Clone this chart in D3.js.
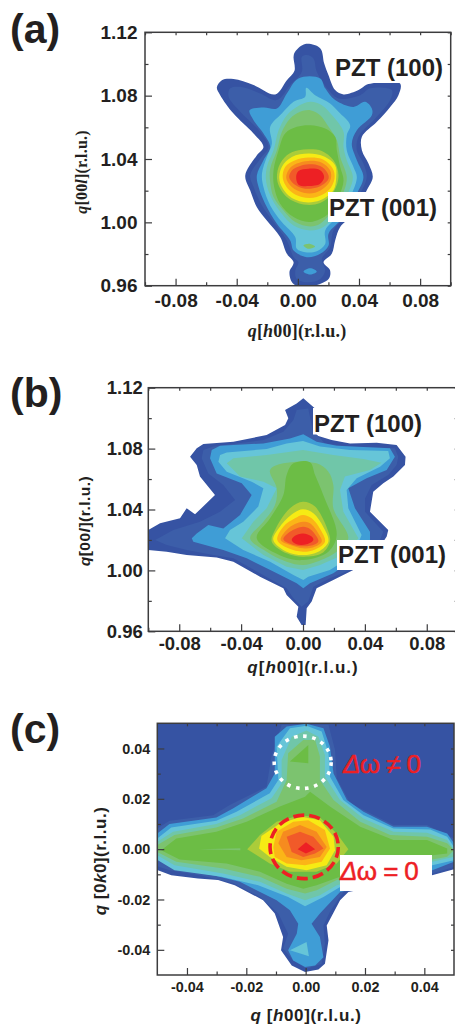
<!DOCTYPE html>
<html>
<head>
<meta charset="utf-8">
<script src="https://cdn.jsdelivr.net/npm/d3@7"></script>
<style>
    html, body { margin: 0; padding: 0; background: #fff; }
    svg { display: block; }
    text { fill: #231f20; font-family: "Liberation Sans", Arial, sans-serif; }
</style>
</head>
<body>
<svg id="chart" width="455" height="1024"></svg>
<script>
// intensity levels, outermost to peak
var levelColors = ['#3653a3', '#3c5ea9', '#3f9dd6', '#66c5d8', '#70c6a9', '#7cc36f', '#6cbd45',
    '#abcc3a', '#f6eb14', '#fbb517', '#f68b1f', '#f15a29', '#ed2024'];

// tick labels
var ticksH = [-0.08, -0.04, 0, 0.04, 0.08];
var minorH = [-0.06, -0.02, 0.02, 0.06, -0.1, 0.1];
var ticksL = [0.96, 1.00, 1.04, 1.08, 1.12];
var minorL = [0.98, 1.02, 1.06, 1.10];
var ticksC = [-0.04, -0.02, 0, 0.02, 0.04];
var minorC = [-0.03, -0.01, 0.01, 0.03];

// panel (a): contours as [q h00, q 00l]
var a1 = [[.0048,1.1126],[.0146,1.1099],[.0172,1.1004],[.0200,1.0930],[.0244,1.0835],[.0299,1.0808],[.0397,1.0835],[.0462,1.0873],[.0669,1.0877],[.0658,1.0803],[.0604,1.0729],[.0517,1.0635],[.0419,1.0540],[.0419,1.0455],[.0462,1.0371],[.0490,1.0286],[.0451,1.0202],[.0364,1.0054],[.0277,.9970],[.0244,.9885],[.0222,.9801],[.0168,.9748],[.0211,.9696],[.0201,.9643],[.0081,.9596],[-.0028,.9611],[-.0055,.9685],[-.0028,.9748],[-.0072,.9801],[-.0116,.9907],[-.0203,1.0012],[-.0268,1.0096],[-.0312,1.0202],[-.0344,1.0297],[-.0268,1.0424],[-.0225,1.0476],[-.0290,1.0561],[-.0421,1.0687],[-.0508,1.0803],[-.0530,1.0852],[-.0497,1.0898],[-.0421,1.0905],[-.0290,1.0867],[-.0148,1.0808],[-.0072,1.0898],[-.0022,1.0957],[-.0028,1.1046],[-.0017,1.1078]];
var a2 = [[.0059,1.1057],[.0102,1.1035],[.0124,1.0951],[.0201,1.0835],[.0266,1.0782],[.0408,1.0803],[.0473,1.0846],[.0615,1.0835],[.0604,1.0772],[.0517,1.0666],[.0397,1.0540],[.0386,1.0455],[.0429,1.0371],[.0451,1.0286],[.0408,1.0181],[.0331,1.0054],[.0233,.9949],[.0211,.9843],[.0157,.9769],[.0179,.9696],[.0146,.9643],[.0070,.9622],[-.0007,.9643],[-.0017,.9696],[.0004,.9748],[-.0028,.9780],[-.0072,.9885],[-.0159,1.0002],[-.0235,1.0107],[-.0290,1.0223],[-.0312,1.0297],[-.0246,1.0402],[-.0192,1.0476],[-.0246,1.0571],[-.0377,1.0698],[-.0453,1.0793],[-.0443,1.0846],[-.0377,1.0856],[-.0246,1.0814],[-.0137,1.0772],[-.0050,1.0867],[.0026,1.0951],[.0026,1.1046]];
var a3 = [[.0004,1.0909],[.0146,1.0909],[.0179,1.0846],[.0244,1.0772],[.0364,1.0729],[.0440,1.0761],[.0484,1.0719],[.0484,1.0677],[.0386,1.0582],[.0353,1.0497],[.0386,1.0392],[.0429,1.0286],[.0386,1.0181],[.0299,1.0033],[.0201,.9928],[.0201,.9854],[.0146,.9801],[.0059,.9780],[-.0028,.9822],[-.0050,.9885],[-.0137,.9991],[-.0214,1.0118],[-.0257,1.0223],[-.0268,1.0297],[-.0225,1.0392],[-.0181,1.0476],[-.0225,1.0561],[-.0290,1.0645],[-.0316,1.0708],[-.0225,1.0725],[-.0137,1.0719],[-.0072,1.0814]];
var a3b = [[.0081,.9710],[.0124,.9689],[.0081,.9670],[.0037,.9689]];
var a4 = [[.0055,1.0850],[.0113,1.0803],[.0211,1.0751],[.0266,1.0698],[.0342,1.0613],[.0320,1.0550],[.0320,1.0455],[.0364,1.0350],[.0386,1.0286],[.0353,1.0181],[.0277,1.0054],[.0179,.9949],[.0179,.9864],[.0124,.9818],[.0048,.9812],[-.0007,.9833],[-.0017,.9907],[-.0105,1.0002],[-.0181,1.0107],[-.0225,1.0223],[-.0235,1.0307],[-.0203,1.0413],[-.0170,1.0497],[-.0181,1.0603],[-.0105,1.0687],[-.0028,1.0761],[.0048,1.0793]];
var a5 = [[.0081,1.0761],[.0157,1.0740],[.0233,1.0666],[.0299,1.0571],[.0299,1.0476],[.0320,1.0392],[.0360,1.0286],[.0331,1.0191],[.0255,1.0075],[.0168,.9970],[.0081,.9949],[-.0028,.9980],[-.0105,1.0054],[-.0170,1.0149],[-.0207,1.0255],[-.0203,1.0350],[-.0159,1.0455],[-.0126,1.0582],[-.0072,1.0677],[-.0007,1.0729]];
var a6 = [[.0081,1.0708],[.0146,1.0677],[.0201,1.0603],[.0255,1.0518],[.0277,1.0413],[.0320,1.0286],[.0299,1.0191],[.0211,1.0054],[.0146,.9991],[.0081,.9974],[-.0017,1.0002],[-.0094,1.0075],[-.0159,1.0160],[-.0181,1.0255],[-.0181,1.0339],[-.0137,1.0455],[-.0105,1.0571],[-.0050,1.0656],[.0015,1.0698]];
var a6b = [[.0037,.9854],[.0081,.9864],[.0113,.9847],[.0070,.9833]];
var a7 = [[.0081,1.0613],[.0179,1.0592],[.0244,1.0540],[.0255,1.0455],[.0277,1.0350],[.0299,1.0265],[.0266,1.0160],[.0201,1.0054],[.0081,1.0002],[-.0028,1.0033],[-.0116,1.0118],[-.0155,1.0223],[-.0159,1.0329],[-.0126,1.0455],[-.0083,1.0561],[-.0007,1.0603]];
var a8 = [[.0081,1.0462],[.0157,1.0451],[.0233,1.0392],[.0266,1.0297],[.0233,1.0191],[.0146,1.0122],[.0037,1.0113],[-.0072,1.0160],[-.0133,1.0255],[-.0126,1.0350],[-.0072,1.0424],[.0004,1.0455]];
var a9 = [[.0070,1.0434],[.0168,1.0417],[.0244,1.0360],[.0251,1.0286],[.0233,1.0202],[.0146,1.0139],[.0037,1.0128],[-.0061,1.0170],[-.0120,1.0265],[-.0105,1.0350],[-.0039,1.0413]];
var a10 = [[.0070,1.0409],[.0168,1.0396],[.0229,1.0339],[.0240,1.0276],[.0201,1.0202],[.0124,1.0160],[.0026,1.0160],[-.0050,1.0198],[-.0098,1.0276],[-.0083,1.0350],[-.0017,1.0392]];
var a11 = [[.0070,1.0388],[.0157,1.0377],[.0211,1.0329],[.0216,1.0276],[.0179,1.0223],[.0113,1.0187],[.0037,1.0187],[-.0039,1.0223],[-.0076,1.0282],[-.0055,1.0339],[-.0007,1.0371]];
var a12 = [[.0070,1.0367],[.0146,1.0356],[.0194,1.0312],[.0201,1.0276],[.0157,1.0234],[.0092,1.0213],[.0026,1.0217],[-.0028,1.0244],[-.0057,1.0286],[-.0033,1.0333],[.0015,1.0356]];
var a13 = [[.0070,1.0339],[.0146,1.0329],[.0172,1.0286],[.0146,1.0244],[.0070,1.0229],[.0004,1.0238],[-.0011,1.0286],[.0004,1.0324]];
var contoursA = [a1, a2, a3, a3b, a4, a5, a6, a6b, a7, a8, a9, a10, a11, a12, a13];
var levelsA = [0, 1, 2, 2, 3, 4, 5, 5, 6, 7, 8, 9, 10, 11, 12];

// panel (b): contours as [q h00, q 00l]
var b1 = [[.0002,1.1130],[.0078,1.1064],[.0088,1.0955],[.0078,1.0889],[.0185,1.0856],[.0304,1.0834],[.0476,1.0839],[.0605,1.0823],[.0663,1.0747],[.0659,1.0692],[.0584,1.0616],[.0519,1.0572],[.0454,1.0517],[.0433,1.0386],[.0551,1.0265],[.0541,1.0222],[.0476,1.0123],[.0325,1.0003],[.0196,.9937],[.0088,.9882],[.0056,.9795],[.0024,.9751],[.0017,.9641],[-.0009,.9641],[-.0041,.9696],[-.0030,.9762],[-.0106,.9838],[-.0127,.9882],[-.0278,.9959],[-.0450,1.0057],[-.0558,1.0084],[-.0752,1.0101],[-.0881,1.0123],[-.1000,1.0134],[-.1000,1.0265],[-.0924,1.0309],[-.0795,1.0342],[-.0752,1.0408],[-.0698,1.0368],[-.0569,1.0495],[-.0666,1.0616],[-.0687,1.0692],[-.0730,1.0747],[-.0687,1.0802],[-.0644,1.0830],[-.0450,1.0845],[-.0235,1.0889],[-.0116,1.0955],[-.0095,1.0999],[-.0116,1.1053],[-.0041,1.1097]];
var b2 = [[-.0041,1.1053],[.0034,1.1064],[.0062,1.0922],[.0142,1.0834],[.0304,1.0813],[.0594,1.0802],[.0616,1.0747],[.0605,1.0692],[.0551,1.0626],[.0444,1.0561],[.0401,1.0473],[.0401,1.0386],[.0519,1.0254],[.0498,1.0200],[.0411,1.0090],[.0304,1.0003],[.0174,.9948],[.0067,.9893],[.0034,.9795],[-.0009,.9762],[-.0062,.9817],[-.0106,.9882],[-.0278,.9981],[-.0450,1.0079],[-.0579,1.0101],[-.0752,1.0134],[-.0881,1.0167],[-.0956,1.0200],[-.0838,1.0265],[-.0666,1.0320],[-.0536,1.0386],[-.0439,1.0462],[-.0515,1.0561],[-.0612,1.0637],[-.0655,1.0736],[-.0644,1.0791],[-.0579,1.0813],[-.0256,1.0856],[-.0127,1.0911],[-.0062,1.0988]];
var b3 = [[-.0084,1.0867],[.0002,1.0894],[.0088,1.0845],[.0218,1.0819],[.0562,1.0802],[.0594,1.0747],[.0541,1.0659],[.0411,1.0605],[.0293,1.0539],[.0336,1.0408],[.0433,1.0254],[.0433,1.0200],[.0304,1.0057],[.0196,.9981],[.0045,.9915],[.0002,.9882],[-.0041,.9915],[-.0192,.9992],[-.0364,1.0079],[-.0515,1.0134],[-.0709,1.0189],[-.0719,1.0211],[-.0687,1.0243],[-.0612,1.0298],[-.0515,1.0276],[-.0407,1.0364],[-.0332,1.0495],[-.0396,1.0572],[-.0558,1.0637],[-.0601,1.0736],[-.0590,1.0791],[-.0536,1.0819],[-.0256,1.0834]];
var b4 = [[0,1.0850],[.0110,1.0813],[.0304,1.0791],[.0551,1.0784],[.0562,1.0736],[.0498,1.0681],[.0347,1.0605],[.0282,1.0528],[.0293,1.0408],[.0379,1.0232],[.0325,1.0101],[.0174,1.0003],[.0034,.9959],[.0002,.9937],[-.0062,.9970],[-.0213,1.0057],[-.0386,1.0134],[-.0504,1.0211],[-.0472,1.0265],[-.0386,1.0320],[-.0289,1.0419],[-.0256,1.0539],[-.0332,1.0583],[-.0493,1.0648],[-.0547,1.0714],[-.0536,1.0758],[-.0493,1.0775],[-.0235,1.0797],[-.0106,1.0834]];
var b5 = [[0,1.0791],[.0196,1.0758],[.0390,1.0732],[.0508,1.0707],[.0433,1.0659],[.0271,1.0616],[.0239,1.0528],[.0261,1.0386],[.0358,1.0211],[.0282,1.0112],[.0110,1.0035],[0,1.0003],[-.0106,1.0024],[-.0256,1.0101],[-.0396,1.0211],[-.0321,1.0320],[-.0235,1.0408],[-.0170,1.0539],[-.0256,1.0583],[-.0407,1.0616],[-.0493,1.0703],[-.0450,1.0736],[-.0235,1.0758]];
var b6 = [[-.0213,1.0659],[-.0127,1.0703],[.0088,1.0703],[.0164,1.0648],[.0196,1.0561],[.0196,1.0408],[.0293,1.0211],[.0218,1.0123],[.0088,1.0057],[0,1.0035],[-.0106,1.0057],[-.0235,1.0123],[-.0342,1.0211],[-.0256,1.0320],[-.0181,1.0429],[-.0170,1.0539]];
var b7 = [[-.0106,1.0626],[-.0062,1.0703],[.0045,1.0710],[.0078,1.0626],[.0131,1.0495],[.0218,1.0232],[.0164,1.0123],[.0002,1.0068],[-.0127,1.0090],[-.0299,1.0211],[-.0213,1.0342],[-.0127,1.0495]];
var b8 = [[0,1.0451],[.0078,1.0419],[.0164,1.0254],[.0174,1.0189],[.0121,1.0112],[0,1.0090],[-.0106,1.0112],[-.0202,1.0189],[-.0181,1.0265],[-.0084,1.0408]];
var b9 = [[0,1.0401],[.0067,1.0375],[.0142,1.0265],[.0164,1.0189],[.0099,1.0123],[0,1.0101],[-.0106,1.0123],[-.0192,1.0200],[-.0149,1.0287],[-.0062,1.0375]];
var b10 = [[0,1.0364],[.0056,1.0342],[.0121,1.0254],[.0142,1.0189],[.0078,1.0138],[0,1.0123],[-.0095,1.0145],[-.0166,1.0200],[-.0127,1.0287],[-.0052,1.0342]];
var b11 = [[0,1.0320],[.0045,1.0309],[.0099,1.0243],[.0121,1.0189],[.0056,1.0149],[0,1.0145],[-.0084,1.0167],[-.0144,1.0200],[-.0106,1.0265],[-.0052,1.0305]];
var b12 = [[0,1.0287],[.0045,1.0272],[.0088,1.0222],[.0099,1.0189],[.0045,1.0162],[-.0062,1.0167],[-.0127,1.0204],[-.0084,1.0254]];
var b13 = [[0,1.0243],[.0056,1.0222],[.0067,1.0200],[.0024,1.0171],[-.0041,1.0171],[-.0073,1.0200],[-.0052,1.0228]];
var contoursB = [b1, b2, b3, b4, b5, b6, b7, b8, b9, b10, b11, b12, b13];
var levelsB = [0, 1, 2, 3, 4, 5, 6, 7, 8, 9, 10, 11, 12];

// panel (c): contours as [q h00, q 0k0]
var c1 = [[-.05,.05],[.05,.05],[.05,-.0080],[.0426,-.0104],[.0144,-.0170],[.0116,-.0203],[.0071,-.0303],[.0077,-.0362],[.0065,-.0455],[.0043,-.0478],[-.0002,-.0488],[-.0047,-.0462],[-.0083,-.0402],[-.0076,-.0349],[-.0104,-.0256],[-.0143,-.0203],[-.0239,-.0143],[-.0295,-.0123],[-.0363,-.0117],[-.0453,-.0104],[-.0498,-.0084],[-.05,-.0080]];
var c2 = [[-.05,.0082],[-.0459,.0113],[-.0312,.0135],[-.0256,.0175],[-.0132,.0248],[-.0115,.0368],[-.0081,.0494],[.0077,.0494],[.0099,.0394],[.0105,.0281],[.0150,.0182],[.0296,.0096],[.0409,.0096],[.05,.0042],[.05,-.0071],[.0427,-.0097],[.0127,-.0170],[.0082,-.0249],[.0060,-.0303],[.0065,-.0376],[.0054,-.0455],[.0003,-.0475],[-.0042,-.0442],[-.0076,-.0395],[-.0059,-.0336],[-.0092,-.0256],[-.0154,-.0190],[-.0245,-.0134],[-.0357,-.0104],[-.0459,-.0084],[-.05,-.0068]];
var c3 = [[-.05,.0062],[-.0459,.0100],[-.0301,.0126],[-.0245,.0162],[-.0132,.0242],[-.0104,.0301],[-.0104,.0447],[-.0064,.0487],[.0003,.0498],[.0060,.0480],[.0082,.0407],[.0094,.0301],[.0139,.0195],[.0195,.0149],[.0296,.0089],[.0409,.0089],[.0477,.0062],[.05,.0023],[.05,-.0050],[.0427,-.0084],[.0116,-.0170],[.0048,-.0256],[.0020,-.0296],[.0048,-.0349],[.0060,-.0429],[.0032,-.0462],[-.0002,-.0468],[-.0042,-.0442],[-.0059,-.0402],[-.0030,-.0336],[-.0025,-.0296],[-.0053,-.0243],[-.0098,-.0203],[-.0222,-.0130],[-.0312,-.0104],[-.0447,-.0077],[-.05,-.0037]];
var c4 = [[-.05,.0042],[-.0453,.0086],[-.0301,.0113],[-.0233,.0149],[-.0121,.0222],[-.0092,.0275],[-.0098,.0407],[-.0053,.0480],[.0003,.0490],[.0054,.0467],[.0077,.0381],[.0082,.0288],[.0127,.0195],[.0195,.0135],[.0296,.0082],[.0420,.0078],[.0477,.0049],[.05,.0009],[.05,-.0044],[.0427,-.0064],[.0116,-.0150],[.0060,-.0190],[-.0002,-.0227],[-.0059,-.0190],[-.0160,-.0143],[-.0284,-.0110],[-.0442,-.0084],[-.0498,-.0044],[-.05,-.0040]];
var c4b = [[-.0053,-.0402],[.0003,-.0369],[.0011,-.0426]];
var c5 = [[-.05,.0029],[-.0447,.0069],[-.0301,.0100],[-.0222,.0135],[-.0115,.0202],[-.0081,.0261],[-.0081,.0354],[-.0047,.0447],[.0003,.0471],[.0043,.0447],[.0065,.0374],[.0065,.0288],[.0116,.0195],[.0195,.0122],[.0296,.0069],[.0409,.0065],[.0477,.0036],[.05,-.0004],[.05,-.0030],[.0427,-.0050],[.0105,-.0143],[.0048,-.0183],[-.0002,-.0203],[-.0064,-.0176],[-.0154,-.0130],[-.0278,-.0097],[-.0442,-.0064],[-.05,-.0024]];
var c6 = [[-.05,.0016],[-.0442,.0056],[-.0301,.0086],[-.0211,.0122],[-.0098,.0188],[-.0064,.0275],[-.0059,.0381],[-.0008,.0434],[.0032,.0434],[.0048,.0368],[.0048,.0275],[.0094,.0195],[.0184,.0109],[.0285,.0056],[.0409,.0049],[.0477,.0023],[.05,-.0004],[.0477,-.0030],[.0427,-.0041],[.0105,-.0123],[.0037,-.0163],[-.0002,-.0176],[-.0064,-.0157],[-.0154,-.0110],[-.0278,-.0077],[-.0436,-.0050],[-.05,-.0011]];
var c7 = [[-.0487,-.0004],[-.0436,.0042],[-.0301,.0069],[-.0199,.0109],[-.0087,.0169],[-.0002,.0208],[.0015,.0228],[.0082,.0169],[.0184,.0089],[.0296,.0036],[.0409,.0036],[.0477,.0003],[.0477,-.0017],[.0427,-.0024],[.0116,-.0110],[.0037,-.0143],[-.0008,-.0157],[-.0064,-.0137],[-.0154,-.0090],[-.0267,-.0057],[-.0425,-.0041]];
var c7b = [[.0009,.0414],[-.0053,.0348],[.0009,.0341]];
var c7c = [[-.0360,0],[-.0220,.0004],[-.0220,-.0004]];
var c8 = [[-.0197,0],[-.0154,.0056],[-.0098,.0109],[-.0019,.0135],[.0048,.0126],[.0105,.0062],[.0144,0],[.0105,-.0057],[.0037,-.0090],[-.0053,-.0090],[-.0121,-.0057]];
var c9 = [[-.0157,.0003],[-.0149,.0052],[-.0087,.0102],[-.0014,.0129],[.0048,.0115],[.0094,.0049],[.0099,-.0004],[.0071,-.0064],[.0003,-.0084],[-.0064,-.0070],[-.0121,-.0031]];
var c10 = [[-.0109,.0009],[-.0098,.0069],[-.0042,.0109],[.0009,.0115],[.0065,.0076],[.0082,.0003],[.0054,-.0050],[-.0002,-.0064],[-.0064,-.0057],[-.0104,-.0031]];
var c11 = [[-.0092,.0023],[-.0076,.0069],[-.0019,.0096],[.0037,.0069],[.0071,.0009],[.0048,-.0031],[-.0014,-.0044],[-.0064,-.0031]];
var c12 = [[-.0064,.0049],[-.0019,.0069],[.0026,.0049],[.0060,.0003],[.0032,-.0017],[-.0008,-.0031],[-.0047,-.0011]];
var c13 = [[-.0027,0],[.0001,.0027],[.0032,0],[.0001,-.0017]];
var contoursC = [c1, c2, c3, c4, c4b, c5, c6, c7, c7b, c7c, c8, c9, c10, c11, c12, c13];
var levelsC = [0, 1, 2, 3, 3, 4, 5, 6, 6, 5, 7, 8, 9, 10, 11, 12];

// marked rings in (c): centre h, centre k, radius h, radius k
var ringWhite = [-0.0010, 0.0345, 0.0096, 0.0104];
var ringRed = [-0.0005, 0.0009, 0.0115, 0.0126];

var svg = d3.select('#chart');
var dark = '#3c3c3e';

function fmt(d) {
    return d3.format('.2f')(d).replace('\u2212', '-');
}

// parts is a list of [string, italic]
function addText(g, parts, x, y, o) {
    var t = g.append('text')
        .attr('transform', 'translate(' + x + ',' + y + ')' + (o.rotate ? ' rotate(-90)' : ''))
        .attr('text-anchor', o.anchor || 'middle')
        .style('font-family', o.family || '"Liberation Sans", Arial, sans-serif')
        .style('font-size', o.size + 'px')
        .style('font-weight', o.weight || 'bold')
        .style('letter-spacing', (o.spacing || 0) + 'px')
        .style('fill', o.color || '#231f20');
    if (o.stroke) {
        t.style('stroke', o.color).style('stroke-width', o.stroke);
    }
    parts.forEach(function (p) {
        t.append('tspan').style('font-style', p[1] ? 'italic' : 'normal').text(p[0]);
    });
    return t;
}

function drawPanel(o) {
    var g = svg.append('g');
    var x = d3.scaleLinear().domain(o.xDomain).range([o.left, o.right]);
    var y = d3.scaleLinear().domain(o.yDomain).range([o.bottom, o.top]);

    var clipId = 'clip-' + o.name.replace(/[()]/g, '');
    g.append('clipPath').attr('id', clipId).append('rect')
        .attr('x', o.left).attr('y', o.top)
        .attr('width', o.right - o.left).attr('height', o.bottom - o.top);

    var line = d3.line()
        .x(function (d) { return x(d[0]); })
        .y(function (d) { return y(d[1]); });

    g.append('g').attr('clip-path', 'url(#' + clipId + ')')
        .selectAll('path').data(o.contours).enter().append('path')
        .attr('d', function (d, i) {
            return line.curve(o.levels[i] < o.sharpBelow ? d3.curveLinearClosed : smooth)(d);
        })
        .attr('fill', function (d, i) { return levelColors[o.levels[i]]; });

    // white boxes behind the notes sit on top of the map
    o.boxes.forEach(function (b) {
        g.append('rect').attr('x', b[0]).attr('y', b[1]).attr('width', b[2]).attr('height', b[3]).attr('fill', '#fff');
    });

    function axis(gen, tx, ty, values, size, labels) {
        var a = g.append('g').attr('transform', 'translate(' + tx + ',' + ty + ')')
            .call(gen.tickValues(values).tickSize(size).tickSizeOuter(0).tickPadding(o.pad)
                .tickFormat(labels ? fmt : ''));
        a.select('.domain').remove();
        a.selectAll('line').attr('stroke', dark).attr('stroke-width', 1.2);
        a.selectAll('text')
            .style('font-size', o.tickFont + 'px').style('font-weight', 'bold')
            .style('font-family', '"Liberation Sans", Arial, sans-serif');
    }
    axis(d3.axisBottom(x), 0, o.bottom, o.ticksX, -7, true);
    axis(d3.axisBottom(x), 0, o.bottom, o.minorX, -3.5, false);
    axis(d3.axisLeft(y), o.left, 0, o.ticksY, -7, true);
    axis(d3.axisLeft(y), o.left, 0, o.minorY, -3.5, false);
    axis(d3.axisTop(x), 0, o.top, o.ticksX.concat(o.minorX), -3, false);
    axis(d3.axisRight(y), o.right, 0, o.ticksY.concat(o.minorY), -3, false);

    g.append('rect').attr('x', o.left).attr('y', o.top)
        .attr('width', o.right - o.left).attr('height', o.bottom - o.top)
        .attr('fill', 'none').attr('stroke', dark).attr('stroke-width', 1.5);

    addText(g, [[o.name]], 10, o.letterY, { size: 41, anchor: 'start' });
    addText(g, o.xLabel, o.xLabelX, o.xLabelY, o.xFont);
    addText(g, o.yLabel, o.yLabelX, o.yLabelY, o.yFont);

    return { g: g, x: x, y: y };
}

var smooth = d3.curveCatmullRomClosed.alpha(0.5);
var serifX = { size: 18, family: '"Liberation Serif", serif', spacing: 0.2 };
var serifY = { size: 16, family: '"Liberation Serif", serif', spacing: 0.2, rotate: true };

var pA = drawPanel({
    name: '(a)', contours: contoursA, levels: levelsA, sharpBelow: 0,
    xDomain: [-0.1, 0.1], yDomain: [0.96, 1.12],
    left: 145, right: 450.7, top: 32.3, bottom: 285.7,
    ticksX: ticksH, minorX: minorH, ticksY: ticksL, minorY: minorL,
    tickFont: 19, pad: 7.5, letterY: 43,
    boxes: [[333, 57, 112, 26], [328, 192, 112, 30]],
    xLabel: [['q', 1], ['['], ['h', 1], ['00](r.l.u.)']], xLabelX: 297, xLabelY: 337, xFont: serifX,
    yLabel: [['q', 1], ['[00'], ['l', 1], ['](r.l.u.)']], yLabelX: 87, yLabelY: 172, yFont: serifY
});
addText(pA.g, [['PZT (100)']], 335, 76, { size: 24, anchor: 'start' });
addText(pA.g, [['PZT (001)']], 329, 216, { size: 24, anchor: 'start' });

var pB = drawPanel({
    name: '(b)', contours: contoursB, levels: levelsB, sharpBelow: 5,
    xDomain: [-0.1, 0.1], yDomain: [0.96, 1.12],
    left: 148.3, right: 457.7, top: 387.7, bottom: 631.3,
    ticksX: ticksH, minorX: minorH, ticksY: ticksL, minorY: minorL,
    tickFont: 18.5, pad: 5.5, letterY: 407,
    boxes: [[313, 408, 112, 26.5], [337, 540, 112, 30]],
    xLabel: [['q', 1], ['['], ['h', 1], ['00](r.l.u.)']], xLabelX: 303, xLabelY: 673, xFont: { size: 17, spacing: 1 },
    yLabel: [['q', 1], ['[00'], ['l', 1], ['](r.l.u.)']], yLabelX: 90, yLabelY: 521, yFont: { size: 15.5, spacing: 0.5, rotate: true }
});
addText(pB.g, [['PZT (100)']], 314, 432, { size: 24, anchor: 'start' });
addText(pB.g, [['PZT (001)']], 338, 563, { size: 24, anchor: 'start' });

var pC = drawPanel({
    name: '(c)', contours: contoursC, levels: levelsC, sharpBelow: 99,
    xDomain: [-0.05, 0.05], yDomain: [-0.05, 0.05],
    left: 157.3, right: 454, top: 723.3, bottom: 975,
    ticksX: ticksC, minorX: minorC, ticksY: ticksC, minorY: minorC,
    tickFont: 14.4, pad: 7, letterY: 743,
    boxes: [[340, 855, 92, 36]],
    xLabel: [['q', 1], [' ['], ['h', 1], ['00](r.l.u.)']], xLabelX: 306, xLabelY: 1021, xFont: { size: 17, spacing: 0.6 },
    yLabel: [['q', 1], [' [0'], ['k', 1], ['0](r.l.u.)']], yLabelX: 106, yLabelY: 861, yFont: { size: 17, spacing: 0.5, rotate: true }
});

function ring(p, r, color, dash) {
    p.g.append('ellipse')
        .attr('cx', p.x(r[0])).attr('cy', p.y(r[1]))
        .attr('rx', p.x(r[2]) - p.x(0)).attr('ry', p.y(0) - p.y(r[3]))
        .attr('fill', 'none').attr('stroke', color).attr('stroke-width', 3.6)
        .attr('stroke-dasharray', dash);
}
ring(pC, ringWhite, '#fff', '3.6 5.6');
ring(pC, ringRed, '#ed2024', '11 5');

var red = { size: 26, weight: 'normal', color: '#ed2024', anchor: 'start', stroke: 0.5, spacing: -0.6 };
addText(pC.g, [['\u0394', 1], ['\u03c9 \u2260 0']], 343, 773, red);
addText(pC.g, [['\u0394', 1], ['\u03c9 = 0']], 340, 880, red);
</script>
</body>
</html>
